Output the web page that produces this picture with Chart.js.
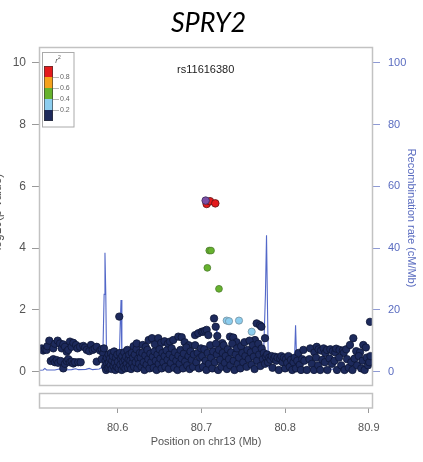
<!DOCTYPE html>
<html>
<head>
<meta charset="utf-8">
<script src="https://cdn.jsdelivr.net/npm/chart.js@4.4.1/dist/chart.umd.min.js"></script>
<style>
  html, body { margin: 0; padding: 0; background: #fff; overflow: hidden; }
  #wrap { position: relative; width: 423px; height: 462px; }
</style>
</head>
<body>
<div id="wrap"><canvas id="c" width="423" height="462"></canvas></div>
<script>
// ---- data: [position on chr13 (Mb), -log10(p)] ----
const leadSnp = [[80.7051, 5.54]];
const redSnps = [[80.7063, 5.43], [80.7103, 5.52], [80.7166, 5.45]];
const greenSnps = [[80.7094, 3.92], [80.7115, 3.92], [80.7071, 3.36], [80.7210, 2.68]];
const lightBlueSnps = [[80.7302, 1.65], [80.7330, 1.63], [80.7449, 1.65], [80.7601, 1.29]];
const navySnps = [
  // 80.50 - 80.585
  [80.5092,0.75],[80.5110,0.68],[80.5131,0.72],[80.5150,0.70],[80.5160,0.82],[80.5183,1.00],[80.5231,0.75],
  [80.5250,0.90],[80.5283,1.00],[80.5311,0.91],[80.5331,0.75],[80.5350,0.88],[80.5370,0.80],[80.5391,0.64],
  [80.5410,0.70],[80.5430,0.97],[80.5450,0.80],[80.5470,0.93],[80.5502,0.86],[80.5520,0.75],[80.5550,0.80],
  [80.5589,0.83],[80.5610,0.78],[80.5630,0.70],[80.5660,0.66],[80.5681,0.86],[80.5701,0.70],[80.5725,0.74],
  [80.5749,0.80],[80.5790,0.68],[80.5809,0.72],[80.5828,0.59],[80.5836,0.75],
  [80.5200,0.34],[80.5231,0.40],[80.5250,0.30],[80.5271,0.37],[80.5290,0.28],[80.5319,0.34],[80.5350,0.10],
  [80.5370,0.25],[80.5391,0.34],[80.5410,0.40],[80.5430,0.30],[80.5450,0.32],[80.5470,0.26],[80.5490,0.30],
  [80.5529,0.30],[80.5558,0.30],[80.5749,0.32],[80.5809,0.40],
  // 80.585 - 80.627
  [80.5850,0.15],[80.5855,0.35],[80.5862,0.05],[80.5870,0.45],[80.5875,0.25],[80.5882,0.10],[80.5890,0.55],
  [80.5895,0.30],[80.5900,0.12],[80.5908,0.42],[80.5915,0.20],[80.5920,0.60],[80.5928,0.08],[80.5935,0.35],
  [80.5942,0.50],[80.5950,0.18],[80.5958,0.65],[80.5965,0.28],[80.5972,0.05],[80.5980,0.45],[80.5988,0.15],
  [80.5995,0.55],[80.6003,0.32],[80.6010,0.10],[80.6019,1.78],[80.6025,0.60],[80.6032,0.22],[80.6040,0.42],
  [80.6048,0.05],[80.6055,0.50],[80.6062,0.30],[80.6070,0.15],[80.6078,0.62],[80.6085,0.38],[80.6092,0.10],
  [80.6100,0.48],[80.6108,0.25],[80.6115,0.70],[80.6122,0.12],[80.6130,0.40],[80.6138,0.55],[80.6145,0.20],
  [80.6152,0.35],[80.6160,0.08],[80.6168,0.60],[80.6175,0.28],[80.6185,0.45],[80.6190,0.82],[80.6195,0.15],
  [80.6205,0.55],[80.6215,0.30],[80.6225,0.72],[80.6227,0.91],[80.6235,0.10],[80.6245,0.42],[80.6255,0.25],
  [80.6265,0.60],
  // 80.627 - 80.700
  [80.6300,0.86],[80.6335,0.80],[80.6370,1.02],[80.6410,1.08],[80.6445,0.88],[80.6485,1.08],[80.6520,0.93],
  [80.6560,0.98],[80.6600,0.90],[80.6625,0.97],[80.6664,1.02],[80.6724,1.13],[80.6765,1.11],[80.6800,0.95],
  [80.6850,0.85],[80.6924,1.18],[80.6963,1.24],
  [80.6275,0.45],[80.6285,0.15],[80.6295,0.60],[80.6310,0.30],[80.6320,0.05],[80.6330,0.52],[80.6345,0.22],
  [80.6355,0.70],[80.6365,0.40],[80.6380,0.10],[80.6390,0.58],[80.6400,0.30],[80.6420,0.48],[80.6430,0.12],
  [80.6440,0.65],[80.6455,0.35],[80.6465,0.05],[80.6475,0.55],[80.6490,0.25],[80.6500,0.72],[80.6510,0.42],
  [80.6525,0.10],[80.6535,0.60],[80.6545,0.30],[80.6560,0.50],[80.6570,0.15],[80.6585,0.68],[80.6595,0.38],
  [80.6610,0.08],[80.6620,0.55],[80.6635,0.28],[80.6645,0.75],[80.6660,0.45],[80.6675,0.12],[80.6685,0.62],
  [80.6700,0.35],[80.6715,0.05],[80.6725,0.52],[80.6740,0.25],[80.6750,0.70],[80.6765,0.42],[80.6780,0.10],
  [80.6790,0.58],[80.6805,0.32],[80.6820,0.78],[80.6830,0.20],[80.6845,0.50],[80.6860,0.08],[80.6870,0.65],
  [80.6885,0.38],[80.6900,0.15],[80.6910,0.55],[80.6925,0.85],[80.6940,0.30],[80.6955,0.60],[80.6970,0.10],
  [80.6985,0.45],[80.6995,0.75],
  // 80.700 - 80.777
  [80.7004,1.29],[80.7023,1.29],[80.7043,1.32],[80.7063,1.35],[80.7083,1.18],[80.7151,1.72],[80.7171,1.45],
  [80.7190,1.15],[80.7342,1.13],[80.7381,1.10],[80.7660,1.56],[80.7700,1.50],[80.7717,1.45],[80.7760,1.08],
  [80.7640,1.02],[80.7420,0.95],[80.7250,0.92],
  [80.7010,0.50],[80.7020,0.15],[80.7035,0.72],[80.7050,0.35],[80.7060,0.05],[80.7075,0.60],[80.7090,0.25],
  [80.7105,0.85],[80.7115,0.45],[80.7130,0.10],[80.7140,0.65],[80.7160,0.30],[80.7175,0.90],[80.7185,0.55],
  [80.7200,0.05],[80.7210,0.70],[80.7225,0.38],[80.7240,0.15],[80.7255,0.60],[80.7265,0.85],[80.7280,0.28],
  [80.7290,0.50],[80.7305,0.08],[80.7315,0.72],[80.7330,0.40],[80.7345,0.20],[80.7355,0.62],[80.7370,0.90],
  [80.7385,0.35],[80.7395,0.05],[80.7410,0.55],[80.7425,0.75],[80.7435,0.25],[80.7450,0.45],[80.7465,0.10],
  [80.7475,0.82],[80.7490,0.60],[80.7500,0.30],[80.7515,0.95],[80.7525,0.50],[80.7540,0.15],[80.7550,0.70],
  [80.7565,0.40],[80.7575,1.00],[80.7590,0.62],[80.7600,0.22],[80.7615,0.85],[80.7625,0.48],[80.7635,0.08],
  [80.7650,0.70],[80.7665,0.35],[80.7680,0.90],[80.7690,0.55],[80.7705,0.18],[80.7720,0.75],[80.7735,0.40],
  [80.7745,0.60],[80.7760,0.25],[80.7770,0.48],
  // 80.777 - 80.905
  [80.7785,0.55],[80.7795,0.30],[80.7810,0.45],[80.7825,0.38],[80.7840,0.50],[80.7850,0.12],[80.7865,0.42],
  [80.7880,0.48],[80.7895,0.35],[80.7910,0.45],[80.7925,0.05],[80.7940,0.42],[80.7955,0.50],[80.7970,0.30],
  [80.7985,0.45],[80.8000,0.10],[80.8010,0.40],[80.8025,0.28],[80.8040,0.50],[80.8055,0.15],[80.8070,0.38],
  [80.8085,0.05],[80.8100,0.30],[80.8115,0.45],[80.8130,0.10],[80.8145,0.35],[80.8160,0.60],[80.8175,0.22],
  [80.8190,0.05],[80.8205,0.40],
  [80.8218,0.70],[80.8300,0.75],[80.8350,0.62],[80.8378,0.80],[80.8400,0.72],[80.8430,0.68],[80.8460,0.75],
  [80.8480,0.60],[80.8500,0.70],[80.8540,0.72],[80.8570,0.66],[80.8600,0.62],[80.8610,0.74],[80.8650,0.70],
  [80.8690,0.68],[80.8700,0.60],[80.8730,0.72],[80.8775,0.86],[80.8815,1.08],[80.8850,0.66],[80.8895,0.62],
  [80.8934,0.86],[80.8965,0.78],[80.9014,1.61],
  [80.8230,0.35],[80.8260,0.05],[80.8290,0.40],[80.8320,0.25],[80.8345,0.05],[80.8370,0.45],[80.8395,0.20],
  [80.8420,0.05],[80.8445,0.38],[80.8475,0.30],[80.8505,0.05],[80.8530,0.42],[80.8560,0.25],[80.8590,0.35],
  [80.8620,0.05],[80.8645,0.45],[80.8670,0.20],[80.8710,0.05],[80.8740,0.40],[80.8760,0.12],[80.8790,0.30],
  [80.8805,0.05],[80.8830,0.42],[80.8860,0.20],[80.8880,0.50],[80.8910,0.10],[80.8925,0.35],[80.8950,0.05],
  [80.8975,0.45],[80.8990,0.20],[80.9005,0.30],[80.9020,0.50]
];

// ---- recombination rate: [position (Mb), cM/Mb] ----
const recombRate = [
  [80.506,0.4],[80.511,0.5],[80.513,1.0],[80.515,0.5],[80.525,0.5],[80.530,0.8],[80.535,0.5],[80.545,0.6],
  [80.550,0.9],[80.553,0.6],[80.562,0.7],[80.566,1.0],[80.570,0.6],[80.578,0.8],[80.582,1.5],[80.5838,25],
  [80.5848,38.5],[80.5858,25],[80.5868,1.8],[80.592,1.5],[80.598,1.8],[80.6018,2.5],[80.6030,15],[80.6040,23.2],
  [80.6050,3],[80.608,1.2],[80.620,1.0],[80.640,1.5],[80.655,1.8],[80.670,2.0],[80.690,1.5],[80.700,1.0],
  [80.7015,3.7],[80.7030,1.0],[80.7145,1.2],[80.7160,8],[80.7185,14],[80.7200,8],[80.7215,1.5],[80.740,1.5],
  [80.760,2.0],[80.7740,3.0],[80.7765,25],[80.7778,44.2],[80.7790,20],[80.7800,1.5],[80.790,1.0],[80.805,1.0],
  [80.8110,1.5],[80.8125,15],[80.8140,1.5],[80.830,1.0],[80.850,0.8],[80.879,0.6],[80.882,3.0],[80.905,3.0]
];

// ---- axis ticks and legend ----
const xTicks = [80.6, 80.7, 80.8, 80.9];
const logPTicks = [0, 2, 4, 6, 8, 10];
const recombTicks = [0, 20, 40, 60, 80, 100];
const ldBreaks = ['0.8', '0.6', '0.4', '0.2'];
const ldColors = ['#e41a1c', '#f5a21c', '#66b22e', '#8ccdee', '#1d2a5c'];

const FONT = '"Liberation Sans", Arial, sans-serif';
const toXY = arr => arr.map(([x, y]) => ({ x, y }));
const pointSet = (label, pts, fill, stroke, r) => ({
  label, data: toXY(pts), yAxisID: 'y',
  backgroundColor: fill, borderColor: stroke, borderWidth: 0.8,
  pointRadius: r, pointHoverRadius: r
});

// frames, titles and the r² key
const decorations = {
  id: 'decorations',
  afterDraw(chart) {
    const ctx = chart.ctx;
    const { left, right } = chart.chartArea;
    ctx.save();
    ctx.strokeStyle = '#c2c2c2';
    ctx.lineWidth = 1.5;
    ctx.strokeRect(left + 0.5, 47.5, right - left - 1, 338);
    ctx.strokeRect(left + 0.5, 393.5, right - left - 1, 14.5);

    // gene title
    ctx.fillStyle = '#000';
    ctx.font = 'italic 27px Lato, "Open Sans", sans-serif';
    ctx.textAlign = 'center';
    ctx.textBaseline = 'alphabetic';
    ctx.fillText('SPRY2', 208.5, 32);

    // lead SNP name
    ctx.fillStyle = '#222';
    ctx.font = '11px ' + FONT;
    ctx.textBaseline = 'middle';
    ctx.fillText('rs11616380', 205.7, 70);

    // y-axis titles
    ctx.save();
    ctx.translate(-2, 214);
    ctx.rotate(-Math.PI / 2);
    ctx.fillStyle = '#555';
    ctx.font = '12px ' + FONT;
    ctx.fillText('-log10(p-value)', 0, 0);
    ctx.restore();

    ctx.save();
    ctx.translate(411.5, 218);
    ctx.rotate(Math.PI / 2);
    ctx.fillStyle = '#5a6cc0';
    ctx.font = '11px ' + FONT;
    ctx.fillText('Recombination rate (cM/Mb)', 0, 0);
    ctx.restore();

    // r² key
    ctx.strokeStyle = '#aaa';
    ctx.lineWidth = 1;
    ctx.strokeRect(42.5, 52.5, 31.5, 74.5);
    ctx.fillStyle = '#555';
    ctx.font = 'italic 8px ' + FONT;
    ctx.fillText('r', 56.5, 61);
    ctx.font = '5px ' + FONT;
    ctx.fillText('2', 59.5, 57.5);
    const sx = 44, sw = 9, sy = 66, sh = 11;
    ldColors.forEach((c, i) => {
      ctx.fillStyle = c;
      ctx.fillRect(sx, sy + i * sh, sw, sh);
    });
    ctx.strokeStyle = '#333';
    ctx.lineWidth = 0.6;
    ctx.strokeRect(sx + 0.3, sy + 0.3, sw - 0.6, sh * ldColors.length - 0.6);
    ctx.strokeStyle = '#888';
    ctx.fillStyle = '#666';
    ctx.font = '7px ' + FONT;
    ctx.textAlign = 'left';
    ldBreaks.forEach((t, i) => {
      const yy = sy + (i + 1) * sh;
      ctx.beginPath();
      ctx.moveTo(sx + sw, yy + 0.5);
      ctx.lineTo(sx + sw + 6, yy + 0.5);
      ctx.stroke();
      ctx.fillText(t, sx + sw + 7, yy + 0.5);
    });
    ctx.restore();
  }
};

new Chart(document.getElementById('c'), {
  type: 'scatter',
  data: {
    datasets: [
      pointSet('lead SNP', leadSnp, '#7b4fa5', '#3b2a5c', 3.8),
      pointSet('r² 0.8–1.0', redSnps, '#e41a1c', '#5c1414', 3.8),
      pointSet('r² 0.4–0.6', greenSnps, '#66b22e', '#4d7d2d', 3.4),
      pointSet('r² 0.2–0.4', lightBlueSnps, '#8ccdee', '#74919f', 3.6),
      pointSet('r² < 0.2', navySnps, '#1d2a5c', '#0e1636', 3.7),
      {
        label: 'recombination rate', data: toXY(recombRate), yAxisID: 'y2',
        showLine: true, borderColor: '#5368c8', borderWidth: 1.1,
        pointRadius: 0, pointHoverRadius: 0, tension: 0, fill: false
      }
    ]
  },
  options: {
    responsive: false,
    animation: false,
    devicePixelRatio: 1,
    layout: { padding: { top: 47, left: 0, right: 0, bottom: 0 } },
    plugins: { legend: { display: false }, tooltip: { enabled: false } },
    scales: {
      x: {
        type: 'linear', position: 'bottom', min: 80.506, max: 80.905, bounds: 'data',
        afterBuildTicks: s => { s.ticks = xTicks.map(v => ({ value: v })); },
        afterFit: s => { s.height = 54; },
        ticks: { callback: v => v.toFixed(1), color: '#555', font: { family: FONT, size: 11 },
                 padding: 8, autoSkip: false, maxRotation: 0 },
        grid: { drawOnChartArea: false, drawTicks: true, tickLength: 5, color: '#999' },
        border: { display: false },
        title: { display: true, text: 'Position on chr13 (Mb)', color: '#555',
                 font: { family: FONT, size: 11, lineHeight: 1.2 }, padding: { top: 0, bottom: 13.4 } }
      },
      y: {
        type: 'linear', position: 'left', min: -1.183, max: 10.518, bounds: 'data',
        afterBuildTicks: s => { s.ticks = logPTicks.map(v => ({ value: v })); },
        afterFit: s => { s.width = 39; },
        ticks: { color: '#555', font: { family: FONT, size: 12 }, padding: 6 },
        grid: { drawOnChartArea: false, drawTicks: true, tickLength: 7, color: '#999' },
        border: { display: false }
      },
      y2: {
        type: 'linear', position: 'right', min: -11.83, max: 105.18, bounds: 'data',
        afterBuildTicks: s => { s.ticks = recombTicks.map(v => ({ value: v })); },
        afterFit: s => { s.width = 50; },
        ticks: { color: '#5a6cc0', font: { family: FONT, size: 11 }, padding: 8 },
        grid: { drawOnChartArea: false, drawTicks: true, tickLength: 7, color: '#8e9ad4' },
        border: { display: false }
      }
    }
  },
  plugins: [decorations]
});
</script>
</body>
</html>
